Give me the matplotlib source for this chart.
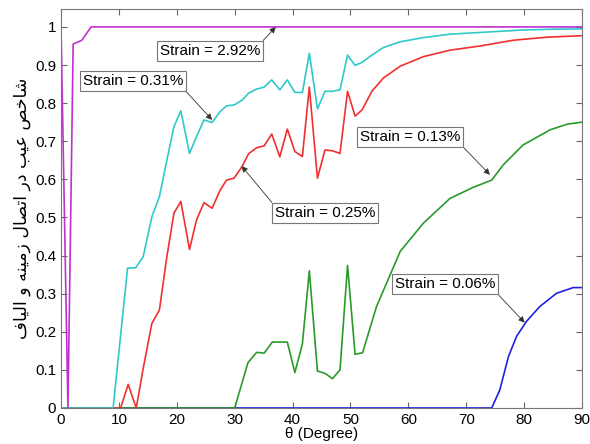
import matplotlib.pyplot as plt

# values (theta in degrees, index 0..1)
x_292 = [0, 1.2, 2.1, 3.6, 5.2, 10, 20, 30, 40, 50, 60, 70, 80, 90]
y_292 = [1.0, 0, 0.955, 0.965, 1.0, 1, 1, 1, 1, 1, 1, 1, 1, 1]

x_031 = [0, 9.0, 11.5, 12.9, 14.2, 15.7, 17.0, 18.3, 19.5, 20.7, 22.2, 23.4, 24.7,
         26.1, 27.5, 28.6, 29.9, 31.3, 32.4, 33.8, 35.1, 36.4, 37.8, 39.1, 40.4,
         41.7, 42.9, 44.3, 45.6, 46.9, 48.2, 49.5, 50.8, 52.0, 53.7, 55.7, 58.6,
         62.6, 67.2, 74.1, 79.8, 85.0, 90]
y_031 = [0, 0, 0.367, 0.368, 0.397, 0.502, 0.555, 0.651, 0.738, 0.78, 0.668, 0.712,
         0.756, 0.749, 0.778, 0.793, 0.795, 0.808, 0.826, 0.837, 0.842, 0.861, 0.835,
         0.861, 0.828, 0.828, 0.931, 0.785, 0.831, 0.831, 0.835, 0.926, 0.899, 0.907,
         0.926, 0.946, 0.961, 0.972, 0.981, 0.987, 0.992, 0.994, 0.995]

x_025 = [0, 10.3, 11.6, 13.0, 14.2, 15.7, 17.0, 18.2, 19.5, 20.7, 22.2, 23.4, 24.7,
         26.1, 27.5, 28.6, 29.9, 31.3, 32.4, 33.8, 35.1, 36.4, 37.8, 39.1, 40.4,
         41.7, 42.9, 44.3, 45.6, 46.9, 48.2, 49.5, 50.8, 52.0, 53.7, 55.7, 58.6,
         62.6, 67.2, 72.4, 78.1, 83.9, 90]
y_025 = [0, 0, 0.062, 0, 0.104, 0.222, 0.257, 0.388, 0.511, 0.542, 0.416, 0.493,
         0.539, 0.524, 0.572, 0.598, 0.603, 0.634, 0.667, 0.683, 0.688, 0.719, 0.659,
         0.732, 0.673, 0.66, 0.842, 0.603, 0.677, 0.675, 0.668, 0.831, 0.766, 0.782,
         0.831, 0.866, 0.897, 0.922, 0.939, 0.95, 0.965, 0.973, 0.977]

x_013 = [0, 30.0, 32.3, 33.8, 35.1, 36.5, 37.8, 39.1, 40.4, 41.7, 42.9, 44.3, 45.6,
         46.9, 48.2, 49.5, 50.8, 52.1, 54.5, 58.6, 62.6, 67.2, 71.2, 74.4, 76.4,
         79.8, 84.5, 87.5, 90]
y_013 = [0, 0, 0.119, 0.146, 0.144, 0.173, 0.173, 0.173, 0.093, 0.168, 0.36, 0.097,
         0.091, 0.077, 0.1, 0.374, 0.141, 0.145, 0.266, 0.411, 0.485, 0.55, 0.579,
         0.598, 0.638, 0.69, 0.73, 0.745, 0.75]

x_006 = [0, 74.4, 75.8, 77.3, 78.7, 80.4, 82.7, 85.6, 88.5, 90]
y_006 = [0, 0, 0.047, 0.135, 0.188, 0.227, 0.266, 0.301, 0.316, 0.316]

labels = ["Strain = 2.92%", "Strain = 0.31%", "Strain = 0.25%",
          "Strain = 0.13%", "Strain = 0.06%"]
label_pos = [(25.7, 0.937), (12.4, 0.858), (45.6, 0.512), (60.3, 0.711), (66.3, 0.325)]
arrow_tip = [(37.1, 1.0), (26.1, 0.756), (31.2, 0.635), (74.1, 0.612), (80.1, 0.224)]
arrow_corner = [(1, 1), (1, 0), (0, 1), (1, 0), (1, 0)]

# Persian y label, pre-shaped (presentation forms) and reversed for display
ylabel_fa = ("\uFEB7\uFE8E\uFEA7\uFEBA \uFECB\uFEF4\uFE90 \uFEA9\uFEAD "
             "\uFE8D\uFE97\uFEBC\uFE8E\uFEDD \uFEAF\uFEE3\uFEF4\uFEE8\uFEEA "
             "\uFEED \uFE8D\uFEDF\uFEF4\uFE8E\uFED1")[::-1]

plt.rcParams['font.family'] = ['Liberation Sans', 'DejaVu Sans']

fig = plt.figure(figsize=(5.9, 4.44), dpi=100)
ax = fig.add_axes([0.1034, 0.0811, 0.883, 0.8986])

# drawn in this order so the baseline shows the same colours as the original
ax.plot(x_006, y_006, color="#2020e0", lw=1.2)
ax.plot(x_013, y_013, color="#2a9a2a", lw=1.2)
ax.plot(x_025, y_025, color="#f03030", lw=1.2)
ax.plot(x_031, y_031, color="#30c8c8", lw=1.2)
ax.plot(x_292, y_292, color="#c030d0", lw=1.2)

for txt, pos, tip, corner in zip(labels, label_pos, arrow_tip, arrow_corner):
    ax.annotate(txt, xy=tip, xytext=pos, ha="center", va="center", fontsize=11,
                bbox=dict(boxstyle="square,pad=0.2", fc="white", ec="#777777", lw=0.8),
                arrowprops=dict(arrowstyle="-|>", color="#333333", lw=0.6,
                                mutation_scale=9, relpos=corner, shrinkA=0, shrinkB=0))

ax.set_xlim(0, 90)
ax.set_ylim(0, 1.047)
ax.set_xticks(range(0, 91, 10))
ax.set_yticks([i / 10 for i in range(11)])
ax.set_yticklabels(["0"] + [f"0.{i}" for i in range(1, 10)] + ["1"])
ax.tick_params(direction="in", top=True, right=True, labelsize=11, colors="#666666",
               labelcolor="black", length=4)
for s in ax.spines.values():
    s.set_color("#777777")
    s.set_linewidth(0.8)

ax.set_xlabel("\u03b8 (Degree)", fontsize=11, labelpad=0)
ax.set_ylabel(ylabel_fa, fontsize=12.5, labelpad=3, family=["DejaVu Sans"])

plt.savefig("out.png", dpi=100)
